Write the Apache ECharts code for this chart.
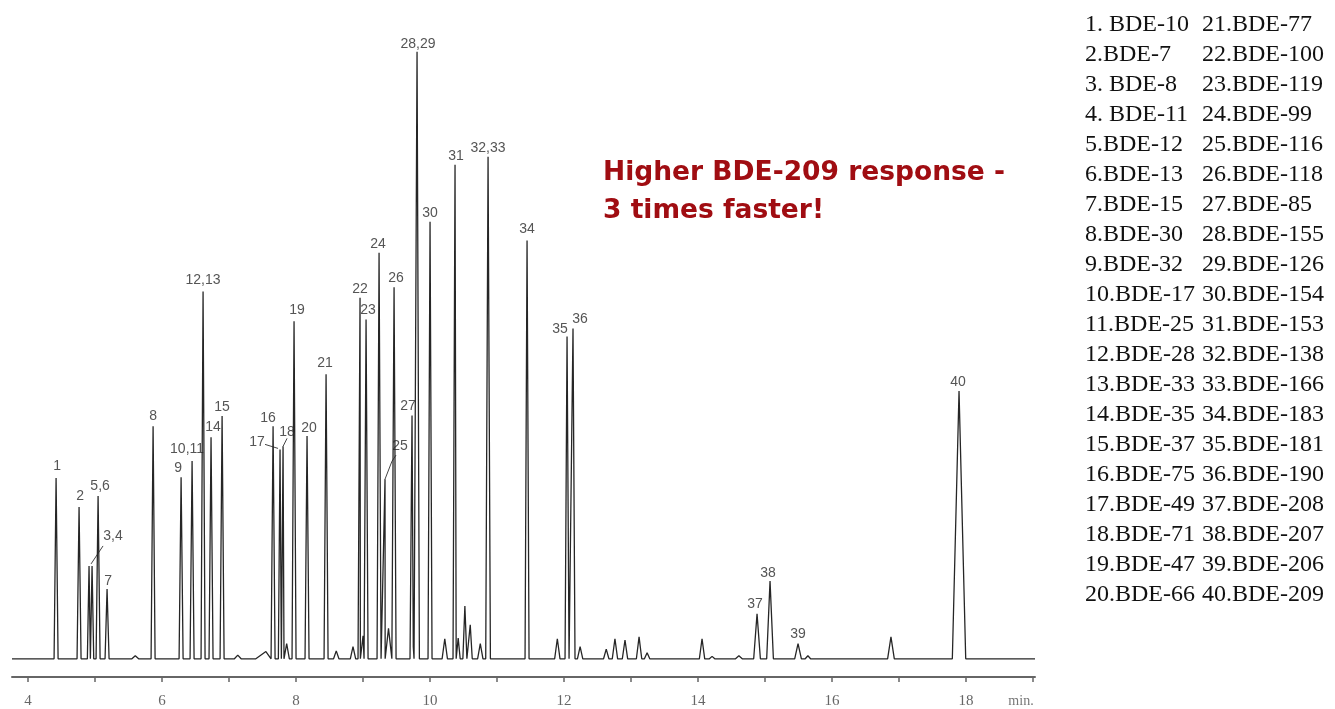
<!DOCTYPE html>
<html>
<head>
<meta charset="utf-8">
<script src="https://cdn.jsdelivr.net/npm/echarts@6/dist/echarts.min.js"></script>
<style>
  html, body { margin: 0; padding: 0; background: #fff; }
  #chart { width: 1335px; height: 709px; }
</style>
</head>
<body>
<div id="chart"></div>
<script>
// labelled peaks (retention time in min, relative response)
const peakNames = ['1', '2', '3,4', '', '5,6', '7', '8', '9', '10,11', '12,13',
  '14', '15', '16', '17', '18', '19', '20', '21', '22', '23',
  '24', '25', '26', '27', '28,29', '30', '31', '32,33', '34', '35',
  '36', '37', '38', '39', '40']
const peakTimes = [4.418, 4.761, 4.910, 4.955, 5.045, 5.179, 5.866, 6.284, 6.448, 6.612,
  6.731, 6.896, 7.657, 7.761, 7.806, 7.970, 8.164, 8.448, 8.955, 9.045,
  9.239, 9.328, 9.463, 9.731, 9.806, 10.000, 10.373, 10.866, 11.448, 12.045,
  12.134, 14.881, 15.075, 15.493, 17.896]
const peakHeights = [29.8, 25.0, 15.3, 15.3, 26.8, 11.5, 38.3, 29.9, 32.6, 60.5,
  36.5, 40.0, 38.3, 34.5, 35.0, 55.6, 36.7, 46.9, 59.5, 55.9,
  66.9, 29.6, 61.2, 40.1, 100, 72.0, 81.4, 82.7, 68.9, 53.1,
  54.4, 7.4, 12.8, 2.5, 44.1]
const peakHalfWidths = [0.03, 0.03, 0.025, 0.025, 0.03, 0.03, 0.03, 0.03, 0.03, 0.03,
  0.03, 0.03, 0.03, 0.025, 0.025, 0.03, 0.03, 0.03, 0.03, 0.03,
  0.03, 0.03, 0.03, 0.03, 0.035, 0.03, 0.03, 0.035, 0.03, 0.03,
  0.03, 0.05, 0.05, 0.05, 0.10]

// small unlabelled peaks
const minorTimes = [5.60, 7.13, 7.55, 7.86, 8.60, 8.85, 9.00, 9.38, 9.75, 10.22,
  10.42, 10.52, 10.60, 10.75, 11.90, 12.24, 12.63, 12.76, 12.91, 13.12,
  13.24, 14.06, 14.21, 14.61, 15.64, 16.88]
const minorHeights = [0.5, 0.6, 1.2, 2.5, 1.3, 2.0, 3.8, 5.0, 2.0, 3.3,
  3.4, 8.7, 5.6, 2.5, 3.3, 2.0, 1.6, 3.3, 3.1, 3.6,
  1.0, 3.3, 0.4, 0.5, 0.5, 3.6]
const minorHalfWidths = [0.05, 0.05, 0.15, 0.04, 0.04, 0.04, 0.04, 0.05, 0.04, 0.04,
  0.03, 0.03, 0.03, 0.04, 0.04, 0.04, 0.04, 0.04, 0.04, 0.04,
  0.04, 0.04, 0.04, 0.05, 0.04, 0.05]

const timeStart = 3.76
const timeEnd = 19.03
const tickValues = [4, 5, 6, 7, 8, 9, 10, 11, 12, 13, 14, 15, 16, 17, 18, 19]
const tickLabels = [4, 6, 8, 10, 12, 14, 16, 18]

const legendNames = [
  '1. BDE-10', '2.BDE-7', '3. BDE-8', '4. BDE-11', '5.BDE-12',
  '6.BDE-13', '7.BDE-15', '8.BDE-30', '9.BDE-32', '10.BDE-17',
  '11.BDE-25', '12.BDE-28', '13.BDE-33', '14.BDE-35', '15.BDE-37',
  '16.BDE-75', '17.BDE-49', '18.BDE-71', '19.BDE-47', '20.BDE-66',
  '21.BDE-77', '22.BDE-100', '23.BDE-119', '24.BDE-99', '25.BDE-116',
  '26.BDE-118', '27.BDE-85', '28.BDE-155', '29.BDE-126', '30.BDE-154',
  '31.BDE-153', '32.BDE-138', '33.BDE-166', '34.BDE-183', '35.BDE-181',
  '36.BDE-190', '37.BDE-208', '38.BDE-207', '39.BDE-206', '40.BDE-209'
]

// trace: each peak goes base - apex - base, sorted by time
const trace = [[timeStart, 0], [timeEnd, 0]]
peakTimes.forEach((t, i) => {
  trace.push([t - peakHalfWidths[i], 0], [t, peakHeights[i]], [t + peakHalfWidths[i], 0])
})
minorTimes.forEach((t, i) => {
  trace.push([t - minorHalfWidths[i], 0], [t, minorHeights[i]], [t + minorHalfWidths[i], 0])
})
trace.sort((a, b) => a[0] - b[0])

// label placement relative to apex (px), leaders drawn for moved ones
const labelOffsets = {
  '1': [1, -12], '2': [1, -11], '3,4': [24, -30], '5,6': [2, -10], '7': [1, -8],
  '8': [0, -10], '9': [-3, -9], '10,11': [-5, -12], '12,13': [0, -11], '14': [2, -10],
  '15': [0, -9], '16': [-5, -8], '17': [-23, -7], '18': [4, -14], '19': [3, -11],
  '20': [2, -8], '21': [-1, -11], '22': [0, -9], '23': [2, -9], '24': [-1, -9],
  '25': [15, -33], '26': [2, -9], '27': [-4, -9], '28,29': [1, -8], '30': [0, -9],
  '31': [1, -9], '32,33': [0, -9], '34': [0, -11], '35': [-7, -7], '36': [7, -9],
  '37': [-2, -10], '38': [-2, -8], '39': [0, -9], '40': [-1, -9]
}
const leaders = {
  '3,4': [[2, -2], [14, -20]],
  '17': [[-2, -1], [-15, -5]],
  '18': [[0, 0], [4, -8]],
  '25': [[0, 0], [7, -18], [11, -24]]
}

const labelData = []
peakNames.forEach((n, i) => {
  if (n) labelData.push([peakTimes[i], peakHeights[i], n])
})

const graphics = []
legendNames.forEach((name, i) => {
  graphics.push({
    type: 'text',
    x: i < 20 ? 1085 : 1202,
    y: 25 + 30 * (i % 20),
    style: {
      text: name,
      fill: '#111',
      font: '24px "Liberation Serif", "Times New Roman", serif',
      verticalAlign: 'middle'
    }
  })
})
const redFont = 'bold 26.5px "DejaVu Sans", sans-serif'
graphics.push({
  type: 'text', x: 603, y: 173,
  style: { text: 'Higher BDE-209 response -', fill: '#a00d12', font: redFont, verticalAlign: 'middle' }
}, {
  type: 'text', x: 603, y: 211,
  style: { text: '3 times faster!', fill: '#a00d12', font: redFont, verticalAlign: 'middle' }
})

const chart = echarts.init(document.getElementById('chart'))
chart.setOption({
  animation: false,
  grid: { left: 12, right: 300, top: 30, bottom: 31 },
  xAxis: {
    type: 'value',
    min: timeStart,
    max: timeEnd,
    splitLine: { show: false },
    axisLine: { onZero: false, lineStyle: { color: '#666', width: 2 } },
    axisTick: { customValues: tickValues, length: 5, lineStyle: { color: '#666', width: 1.5 } },
    axisLabel: {
      customValues: tickLabels.concat([19]),
      margin: 17,
      color: '#666',
      fontSize: 15,
      fontFamily: '"Liberation Serif", serif',
      formatter: v => v === 19 ? '{m|min.}' : String(v),
      rich: { m: { color: '#777', fontSize: 14, fontFamily: '"Liberation Serif", serif', padding: [0, 24, 0, 0] } }
    }
  },
  yAxis: { type: 'value', min: -3, max: 103.6, show: false },
  graphic: graphics,
  series: [{
    type: 'line',
    data: trace,
    showSymbol: false,
    lineStyle: { color: '#262626', width: 1.3 },
    silent: true
  }, {
    type: 'custom',
    data: labelData,
    clip: false,
    renderItem: (params, api) => {
      const name = labelData[params.dataIndex][2]
      const p = api.coord([api.value(0), api.value(1)])
      const o = labelOffsets[name] || [0, -9]
      const children = [{
        type: 'text',
        x: p[0] + o[0],
        y: p[1] + o[1],
        style: {
          text: name,
          fill: '#555',
          font: '14px "Liberation Sans", Arial, sans-serif',
          align: 'center',
          verticalAlign: 'middle'
        }
      }]
      if (leaders[name]) {
        children.push({
          type: 'polyline',
          shape: { points: leaders[name].map(d => [p[0] + d[0], p[1] + d[1]]) },
          style: { stroke: '#444', lineWidth: 1, fill: null }
        })
      }
      return { type: 'group', children }
    }
  }]
})
</script>
</body>
</html>
